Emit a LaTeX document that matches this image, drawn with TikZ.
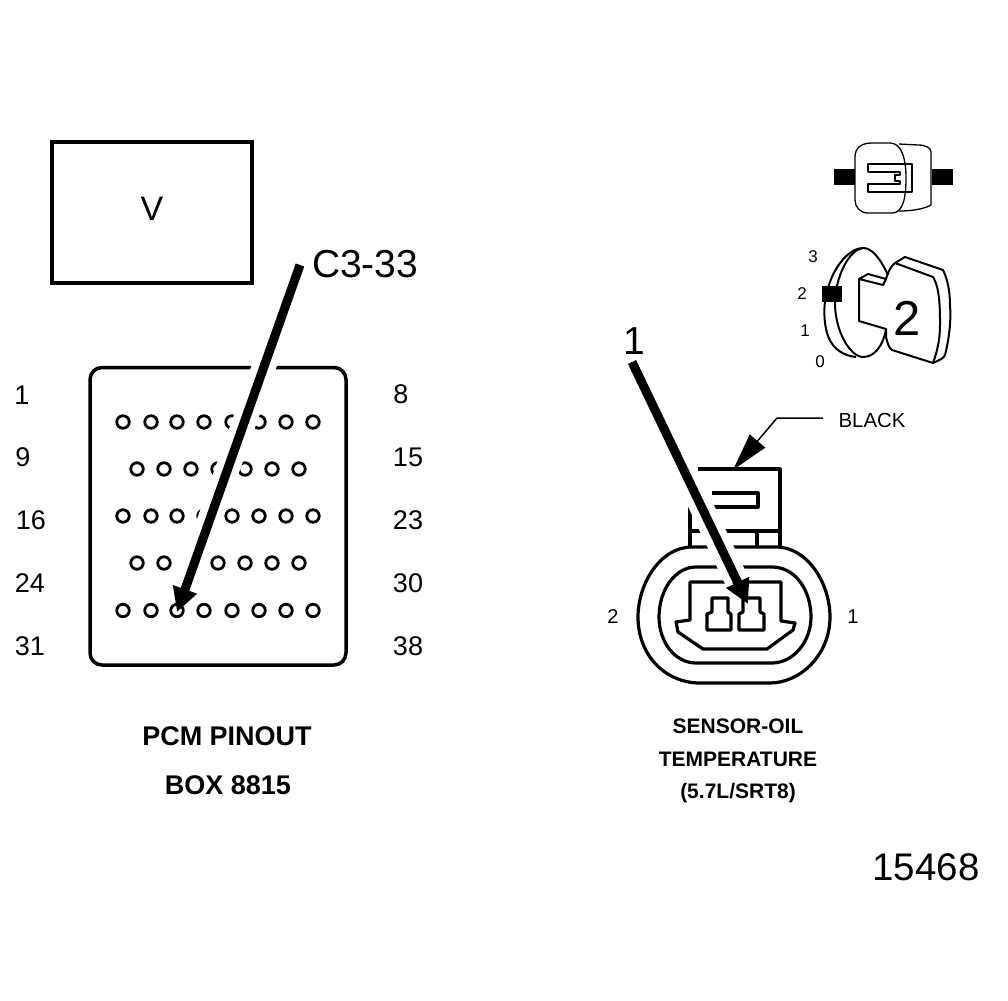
\documentclass[tikz,border=0pt]{standalone}
\usepackage{fontspec}
\setmainfont{Liberation Sans}
\usetikzlibrary{arrows.meta}
\newcommand{\fs}[1]{\fontsize{#1}{#1}\selectfont}
\tikzset{
  lbl/.style={inner sep=0pt,outer sep=0pt,anchor=center},
  pinlabel/.style={lbl,font=\fs{27}},
  biglabel/.style={lbl,font=\fs{39}},
  smalllabel/.style={lbl,font=\fs{20}},
  keynum/.style={lbl,font=\fs{17}},
  caption/.style={lbl,font=\bfseries\fs{27}},
  sensorcap/.style={lbl,font=\bfseries\fs{21}},
  pinhole/.style={draw=black,line width=2.8pt,circle,minimum size=12.5pt,inner sep=0pt},
  halo/.style={draw=white,line width=24pt},
  pointer/.style={draw=black,line width=9pt,-{Triangle[length=24pt,width=24pt]}},
  thick line/.style={draw=black,line width=3.2pt,line join=round},
  med line/.style={draw=black,line width=2pt,line join=round},
  thin line/.style={draw=black,line width=1.3pt,line join=round},
}
\begin{document}
\begin{tikzpicture}[x=1pt,y=-1pt]
\useasboundingbox (0,0) rectangle (1008,1000);
\fill[white] (0,0) rectangle (1008,1000);
% V box
\node[draw=black,line width=4pt,minimum width=200pt,minimum height=141pt,inner sep=0pt,font=\fs{33}] (vbox) at (152,212.5) {};
\node[lbl,font=\fs{34}] (vtxt) at (152,209) {V};
% PCM block
\draw[line width=3.5pt,rounded corners=12pt] (90,367.5) rectangle (346,665);
\foreach \x [count=\i] in {123,151,177,204,232,259,286,313} {
  \node[pinhole] (ra\i) at (\x,422) {};
  \node[pinhole] (rc\i) at (\x,516) {};
  \node[pinhole] (re\i) at (\x,610.5) {};
}
\foreach \x [count=\i] in {137,164,191,218,245,272,299} {
  \node[pinhole] (rb\i) at (\x,469) {};
  \node[pinhole] (rd\i) at (\x,563) {};
}
% left pin numbers
\node[pinlabel] (n1) at (22,395) {1};
\node[pinlabel] (n9) at (23,457) {9};
\node[pinlabel] (n16) at (31,520) {16};
\node[pinlabel] (n24) at (30,583) {24};
\node[pinlabel] (n31) at (30,646) {31};
\node[pinlabel] (n8) at (401,394) {8};
\node[pinlabel] (n15) at (408,457) {15};
\node[pinlabel] (n23) at (408,520) {23};
\node[pinlabel] (n30) at (408,583) {30};
\node[pinlabel] (n38) at (408,646) {38};
\node[caption] (c1) at (227,736) {PCM PINOUT};
\node[caption] (c2) at (228,785) {BOX 8815};
% C3-33 pointer
\node[biglabel,anchor=west] (c333) at (312,264) {C3-33};
\coordinate (a1s) at (300,265);
\coordinate (a1h) at (187,583);
\coordinate (a1e) at (177,612);
\draw[halo] (a1s) -- (a1h);
% top icon
\draw[thin line] (872,143) -- (890,143) .. controls (902,143) and (906,160) .. (906,178)
  .. controls (906,198) and (903,213) .. (892,213) -- (868,213)
  .. controls (860,213) and (855,207) .. (855,200) -- (855,157)
  .. controls (855,149) and (860,143) .. (872,143) -- cycle;
\draw[thin line] (899,144) -- (918,145) .. controls (926,145) and (931,148) .. (931,152)
  -- (931,205) .. controls (926,208) and (915,211) .. (899,211);
\draw[thin line] (868,164) -- (912,164) -- (912,192) -- (868,192) -- (868,184) -- (900,184)
  -- (900,181) -- (895,181) -- (895,175) -- (900,175) -- (900,172) -- (868,172) -- cycle;
\fill[black] (834,169) rectangle (855,185);
\fill[black] (932,169) rectangle (953,185);
% key icon
\draw[med line] (888,275) .. controls (880,258) and (872,248) .. (863,248)
  .. controls (850,248) and (835,265) .. (829,285) .. controls (823,300) and (823,322) .. (828,336)
  .. controls (833,350) and (845,356) .. (856,357);
\draw[med line] (863,248) .. controls (848,250) and (836,278) .. (835,300)
  .. controls (834,330) and (850,357) .. (863,357) .. controls (875,357) and (883,345) .. (886,330);
\draw[med line] (859,279) -- (868,274) -- (886,279) -- (883,285) -- (859,279) -- (859,321) -- (886,329) -- (886,337)
  .. controls (888,345) and (889,348) .. (892,350) -- (933,363) .. controls (940,360) and (944,358) .. (945,355)
  .. controls (950,335) and (951,318) .. (950,305) .. controls (950,290) and (947,278) .. (943,270)
  -- (905,257) -- (895,263) .. controls (891,266) and (888,272) .. (886,279);
\draw[med line] (895,263) -- (933,277) .. controls (940,288) and (940,310) .. (940,325)
  .. controls (940,340) and (937,352) .. (933,363);
\fill[black] (822,286) rectangle (842,302);
\node[lbl,font=\fs{49}] (k2) at (907,318) {2};
\node[keynum] (k3) at (813,257) {3};
\node[keynum] (k2b) at (802,294) {2};
\node[keynum] (k1) at (805,331) {1};
\node[keynum] (k0) at (820,362) {0};
% sensor connector
\draw[thick line] (698,469) -- (780,469) -- (780,547);
\draw[thick line] (701,506) -- (690,506) -- (690,547);
\draw[thick line] (690,531) -- (780,531);
\draw[thick line] (757,531) -- (757,547);
\draw[thick line] (712,493) -- (758,493) -- (758,507) -- (714,507);
\draw[thick line] (692,547) -- (776,547) .. controls (808,547) and (830,584) .. (830,617)
  .. controls (830,655) and (800,683) .. (770,683) -- (700,683)
  .. controls (665,683) and (638,655) .. (638,617) .. controls (638,584) and (660,547) .. (692,547) -- cycle;
\draw[thick line] (696,567) -- (772,567) .. controls (795,567) and (811,590) .. (811,617)
  .. controls (811,642) and (793,663) .. (772,663) -- (696,663)
  .. controls (675,663) and (659,642) .. (659,617) .. controls (659,590) and (675,567) .. (696,567) -- cycle;
\draw[thick line] (690,582) -- (781,582) -- (781,621) -- (795,623) -- (793,630) -- (767,649) -- (703,649)
  -- (678,632) -- (676,622) -- (690,620) -- cycle;
\node[smalllabel] (s2) at (613,617) {2};
\node[smalllabel] (s1) at (853,617) {1};
\node[lbl,font=\fs{39}] (one) at (634,341) {1};
\coordinate (a2s) at (632,362);
\coordinate (a2h) at (737,581);
\coordinate (a2e) at (748,604);
\draw[halo] (a2s) -- (a2h);
\draw[thick line] (712,598) -- (728,598) -- (728,612) -- (731,614) -- (731,630) -- (707,630) -- (707,614) -- (712,612) -- cycle;
\draw[thick line] (743,598) -- (760,598) -- (760,612) -- (764,614) -- (764,630) -- (739,630) -- (739,614) -- (743,612) -- cycle;
% pointers
\draw[pointer] (a1s) -- (a1e);
\draw[pointer] (a2s) -- (a2e);
% black leader
\node[lbl,font=\fs{20.4}] (black) at (872,420) {BLACK};
\coordinate (bl1) at (823,418);
\coordinate (bl2) at (777,418);
\coordinate (bl3) at (733,470);
\draw[draw=black,line width=1.5pt,-{Triangle[length=38pt,width=20pt]}] (bl1) -- (bl2) -- (bl3);
% captions
\node[sensorcap] (s3) at (738,726) {SENSOR-OIL};
\node[sensorcap] (s4) at (738,759) {TEMPERATURE};
\node[sensorcap] (s5) at (738,793) {(5.7L/SRT8)};
\node[lbl,font=\fs{38.5}] (num) at (926,867) {15468};
\end{tikzpicture}
\end{document}
